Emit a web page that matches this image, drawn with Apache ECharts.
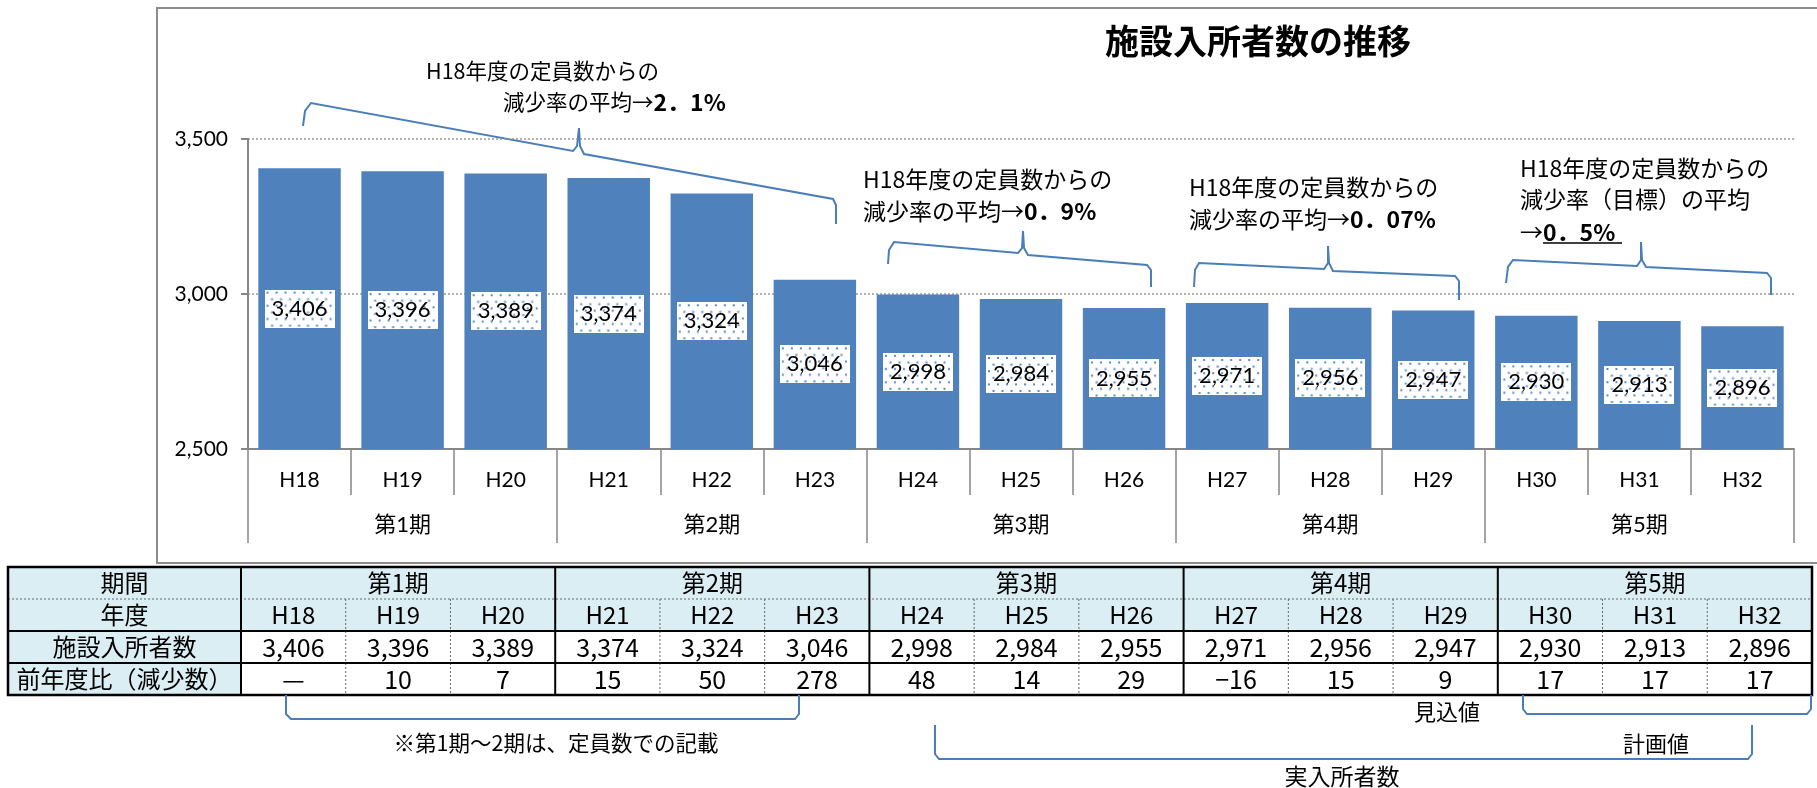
<!DOCTYPE html>
<html>
<head>
<meta charset="utf-8">
<script src="https://cdn.jsdelivr.net/npm/echarts@6/dist/echarts.min.js"></script>
<style>
  html, body { margin: 0; padding: 0; background: #fff; }
  #chart { width: 1817px; height: 788px; }
</style>
</head>
<body>
<div id="chart"></div>
<script>
// data
const years = ['H18', 'H19', 'H20', 'H21', 'H22', 'H23', 'H24', 'H25', 'H26', 'H27', 'H28', 'H29', 'H30', 'H31', 'H32'];
const periods = ['第1期', '第2期', '第3期', '第4期', '第5期'];
const residents = [3406, 3396, 3389, 3374, 3324, 3046, 2998, 2984, 2955, 2971, 2956, 2947, 2930, 2913, 2896];
const decreases = [null, 10, 7, 15, 50, 278, 48, 14, 29, -16, 15, 9, 17, 17, 17];
const rowHeads = ['期間', '年度', '施設入所者数', '前年度比（減少数）'];
const yMin = 2500, yMax = 3500, yStep = 500;

const JP = '"Noto Sans CJK JP", sans-serif';
const NUM = 'Lato, "Noto Sans CJK JP", sans-serif';
const BLUE_LINE = '#4a7ebb';
const fmt = v => String(v).replace(/\B(?=(\d{3})+(?!\d))/g, ',');
const fmtDiff = v => v == null ? '—' : (v < 0 ? '−' + Math.abs(v) : String(v));

// dotted white box behind the bar labels
const dots = document.createElement('canvas');
dots.width = 70; dots.height = 38;
const g = dots.getContext('2d');
g.fillStyle = '#fff';
g.fillRect(0, 0, 70, 38);
g.fillStyle = '#5b8ac6';
for (let r = 0; r < 6; r++) {
  for (let c = 0; c < 8; c++) {
    const x = 2 + c * 9 + (r % 2 ? 4.5 : 0), y = 2 + r * 6.6;
    if (x < 68) g.fillRect(x, y, 2, 2);
  }
}

function txt(x, y, text, size, extra) {
  return {
    type: 'text', x: x, y: y, silent: true,
    style: Object.assign({
      text: text, fontSize: size, fontFamily: JP, fill: '#000',
      textAlign: 'left', textVerticalAlign: 'middle'
    }, extra || {})
  };
}
function line(x1, y1, x2, y2, stroke, w, dash) {
  return {
    type: 'line', silent: true,
    shape: { x1: x1, y1: y1, x2: x2, y2: y2 },
    style: { stroke: stroke, lineWidth: w, lineDash: dash || null }
  };
}
function poly(points) {
  return {
    type: 'polyline', silent: true,
    shape: { points: points },
    style: { stroke: BLUE_LINE, lineWidth: 2, fill: null }
  };
}

const graphics = [];

// chart frame
graphics.push({
  type: 'rect', silent: true, z: -10,
  shape: { x: 157, y: 8, width: 1700, height: 555 },
  style: { fill: 'none', stroke: '#8c8c8c', lineWidth: 2 }
});

// title
graphics.push(txt(1258, 41, '施設入所者数の推移', 34, { fontWeight: 'bold', textAlign: 'center' }));

// annotations
const bold = { b: { fontWeight: 'bold', fontSize: 23, fontFamily: JP } };
graphics.push(txt(426, 71, 'H18年度の定員数からの', 21.5));
graphics.push(txt(503, 102, '減少率の平均→{b|2．1%}', 21.5, { rich: bold }));
graphics.push(txt(863, 179, 'H18年度の定員数からの', 23));
graphics.push(txt(863, 211, '減少率の平均→{b|0．9%}', 23, { rich: bold }));
graphics.push(txt(1189, 187, 'H18年度の定員数からの', 23));
graphics.push(txt(1189, 219, '減少率の平均→{b|0．07%}', 23, { rich: bold }));
graphics.push(txt(1520, 168, 'H18年度の定員数からの', 23));
graphics.push(txt(1520, 199, '減少率（目標）の平均', 23));
graphics.push(txt(1520, 232, '→{b|0．5%}', 23, { rich: bold }));
graphics.push(line(1543, 243, 1622, 243, '#000', 1.5));

// braces
graphics.push(poly([[303, 126], [305, 111], [311, 103], [573, 151], [577, 146], [579, 128], [580, 146], [584, 154], [833, 199], [836, 205], [836, 224]]));
graphics.push(poly([[888, 264], [889, 250], [894, 242], [1018, 253], [1022, 248], [1023, 231], [1024, 248], [1028, 255], [1147, 265], [1151, 270], [1151, 287]]));
graphics.push(poly([[1194, 287], [1195, 270], [1199, 263], [1324, 269], [1328, 263], [1328, 246], [1329, 263], [1333, 271], [1455, 276], [1459, 281], [1459, 300]]));
graphics.push(poly([[1506, 283], [1508, 267], [1513, 260], [1637, 266], [1641, 260], [1641, 242], [1642, 260], [1646, 267], [1767, 273], [1771, 278], [1771, 295]]));

// table
const tx0 = 8, tx1 = 241, tx2 = 1812;
const ty = [567, 599, 631, 663, 695];
const colW = (tx2 - tx1) / years.length;
const HEAD = '#dbeef4';
graphics.push({ type: 'rect', silent: true, shape: { x: tx0, y: ty[0], width: tx2 - tx0, height: ty[2] - ty[0] }, style: { fill: HEAD } });
graphics.push({ type: 'rect', silent: true, shape: { x: tx0, y: ty[2], width: tx1 - tx0, height: ty[4] - ty[2] }, style: { fill: HEAD } });
rowHeads.forEach((h, r) => {
  graphics.push(txt((tx0 + tx1) / 2, (ty[r] + ty[r + 1]) / 2, h, 24, { textAlign: 'center' }));
});
periods.forEach((p, i) => {
  graphics.push(txt(tx1 + colW * (i * 3 + 1.5), (ty[0] + ty[1]) / 2, p, 24, { textAlign: 'center' }));
});
years.forEach((y, i) => {
  const cx = tx1 + colW * (i + 0.5);
  graphics.push(txt(cx, (ty[1] + ty[2]) / 2, y, 24, { textAlign: 'center' }));
  graphics.push(txt(cx, (ty[2] + ty[3]) / 2, fmt(residents[i]), 25, { textAlign: 'center' }));
  graphics.push(txt(cx, (ty[3] + ty[4]) / 2, fmtDiff(decreases[i]), 25, { textAlign: 'center' }));
});
// table lines
graphics.push(line(tx0, ty[1], tx2, ty[1], '#666', 1, [2, 2]));
for (let i = 1; i < years.length; i++) {
  if (i % 3 !== 0) {
    const x = tx1 + colW * i;
    graphics.push(line(x, ty[1], x, ty[4], '#666', 1, [2, 2]));
  }
}
graphics.push(line(tx0, ty[2], tx2, ty[2], '#000', 2));
graphics.push(line(tx0, ty[3], tx2, ty[3], '#000', 2));
graphics.push(line(tx1, ty[0], tx1, ty[4], '#000', 2));
for (let i = 3; i < years.length; i += 3) {
  const x = tx1 + colW * i;
  graphics.push(line(x, ty[0], x, ty[4], '#000', 2));
}
graphics.push({
  type: 'rect', silent: true,
  shape: { x: tx0, y: ty[0], width: tx2 - tx0, height: ty[4] - ty[0] },
  style: { fill: 'none', stroke: '#000', lineWidth: 2.5 }
});

// notes below the table
graphics.push(poly([[286, 695], [286, 714], [291, 719], [795, 719], [799, 714], [799, 695]]));
graphics.push(txt(556, 743, '※第1期～2期は、定員数での記載', 21.5, { textAlign: 'center' }));
graphics.push(poly([[1523, 695], [1523, 709], [1527, 714], [1807, 714], [1811, 709], [1811, 695]]));
graphics.push(txt(1447, 712, '見込値', 22, { textAlign: 'center' }));
graphics.push(poly([[935, 725], [935, 754], [939, 759], [1748, 759], [1752, 754], [1752, 725]]));
graphics.push(txt(1656, 744, '計画値', 22, { textAlign: 'center' }));
graphics.push(txt(1342, 776, '実入所者数', 23, { textAlign: 'center' }));

const AXIS = '#868686';
const chart = echarts.init(document.getElementById('chart'));
chart.setOption({
  animation: false,
  textStyle: { fontFamily: NUM },
  grid: { left: 248, right: 23, top: 139, bottom: 339 },
  xAxis: [
    {
      type: 'category', data: years, position: 'bottom',
      axisLine: { lineStyle: { color: AXIS, width: 2 } },
      axisTick: { show: true, interval: 0, length: 46, lineStyle: { color: AXIS, width: 1.5 } },
      axisLabel: { interval: 0, margin: 21, fontSize: 21, color: '#000', fontFamily: NUM }
    },
    {
      type: 'category', data: periods, position: 'bottom',
      axisLine: { show: false },
      axisTick: { show: true, interval: 0, length: 94, lineStyle: { color: AXIS, width: 1.5 } },
      axisLabel: { interval: 0, margin: 65, fontSize: 22, color: '#000', fontFamily: NUM }
    }
  ],
  yAxis: {
    type: 'value', min: yMin, max: yMax, interval: yStep,
    axisLine: { show: true, lineStyle: { color: AXIS, width: 2 } },
    axisTick: { show: true, length: 7, lineStyle: { color: AXIS, width: 2 } },
    axisLabel: { margin: 20, fontSize: 21, color: '#000', fontFamily: NUM, formatter: v => fmt(v) },
    splitLine: { lineStyle: { type: [2, 2], color: '#9a9a9a', width: 1.5 } }
  },
  series: [
    {
      type: 'bar',
      data: residents,
      barCategoryGap: '20%',
      itemStyle: { color: '#4f81bd' },
      label: {
        show: true, position: 'inside',
        fontSize: 22, color: '#000', fontFamily: NUM,
        padding: [8, 7],
        backgroundColor: { image: dots },
        formatter: p => fmt(p.value)
      }
    }
  ],
  graphic: graphics
});
</script>
</body>
</html>
